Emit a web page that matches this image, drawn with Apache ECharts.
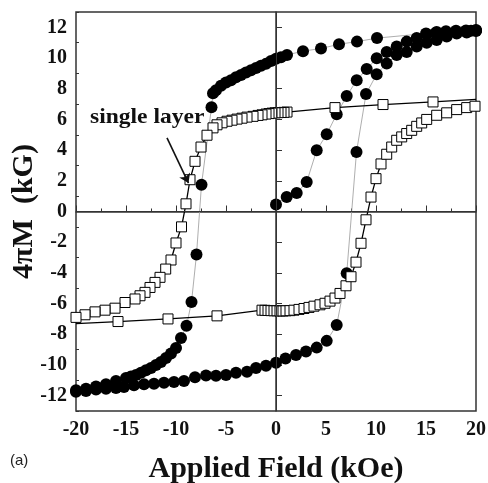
<!DOCTYPE html>
<html>
<head>
<meta charset="utf-8">
<script src="https://cdn.jsdelivr.net/npm/echarts@6/dist/echarts.min.js"></script>
<style>
html,body{margin:0;padding:0;background:#fff;}
#main{width:488px;height:483px;}
</style>
</head>
<body>
<div id="main"></div>
<script>
// multilayer sample (filled circles): initial curve, descending and ascending branches
var circInit = [[0,0.46],[1.07,0.94],[2.07,1.2],[3.07,1.92],[4.07,3.99],[5.07,5.03],[6.07,6.34],[7.07,7.52],
  [8.07,8.56],[9.07,9.28],[10.07,9.98],[11.07,10.4],[12.07,10.75],[13.07,11.07],[14.07,11.3],[15.07,11.55],
  [16.07,11.7],[17,11.75],[18,11.78],[19,11.8],[20,11.82]];
var circDown = [[20,11.8],[19.5,11.78],[19,11.75],[18,11.72],[17,11.68],[16,11.65],[15,11.6],[10.1,11.3],
  [8.1,11.07],[6.3,10.9],[4.5,10.62],[2.7,10.45],[1.1,10.2],[0.5,10.05],[0,9.95],[-0.5,9.8],[-1,9.62],
  [-1.5,9.5],[-2,9.35],[-2.5,9.2],[-3,9.05],[-3.5,8.9],[-4,8.75],[-4.5,8.55],[-5,8.4],[-5.5,8.2],[-6,7.9],
  [-6.3,7.7],[-6.45,6.8],[-7.45,1.75],[-7.95,-2.8],[-8.45,-5.9],[-8.95,-7.45],[-9.5,-8.25],[-10,-8.9],
  [-10.5,-9.25],[-11,-9.55],[-11.5,-9.8],[-12,-10.0],[-12.5,-10.2],[-13,-10.35],[-13.5,-10.5],[-14,-10.65],
  [-14.5,-10.75],[-15,-10.85],[-16,-11.05],[-17,-11.25],[-18,-11.4],[-19,-11.55],[-20,-11.65]];
var circUp = [[-20,-11.75],[-19,-11.7],[-18,-11.6],[-17,-11.55],[-16,-11.5],[-15.2,-11.44],[-14.2,-11.33],
  [-13.2,-11.26],[-12.2,-11.22],[-11.2,-11.16],[-10.2,-11.11],[-9.2,-11.05],[-8.1,-10.8],[-7,-10.68],
  [-6,-10.7],[-5,-10.65],[-4,-10.5],[-2.9,-10.45],[-2,-10.2],[-1,-10.05],[0,-9.85],[0.95,-9.58],[2.0,-9.35],
  [3.0,-9.13],[4.07,-8.87],[5.07,-8.43],[6.07,-7.4],[7.07,-4.03],[8.05,3.88],[9.0,7.65],[10.07,8.95],
  [11.07,9.65],[12.07,10.2],[13.07,10.4],[14.07,10.75],[15.07,11.0],[16.07,11.18],[17.07,11.4],
  [18.07,11.6],[19.07,11.67],[20,11.76]];

// single layer (open squares)
var sqDown = [[20,7.3],[15.7,7.14],[10.7,6.97],[5.9,6.77],[1.1,6.48],[0.8,6.46],[0.5,6.45],[0.2,6.44],
  [-0.1,6.43],[-0.4,6.41],[-0.7,6.38],[-1.0,6.35],[-1.4,6.3],[-1.8,6.26],[-2.3,6.2],[-2.9,6.15],[-3.4,6.08],
  [-3.9,6.02],[-4.4,5.95],[-4.9,5.88],[-5.4,5.78],[-5.9,5.65],[-6.3,5.45],[-6.9,4.97],[-7.5,4.2],[-8.1,3.27],
  [-8.6,2.07],[-9.0,0.5],[-9.45,-1.0],[-10,-2.05],[-10.5,-3.16],[-11.03,-3.75],[-11.6,-4.29],[-12.1,-4.62],
  [-12.6,-4.95],[-13.1,-5.27],[-13.6,-5.49],[-14.1,-5.7],[-15.1,-5.93],[-16.1,-6.3],[-17.1,-6.43],
  [-18.1,-6.54],[-19.1,-6.73],[-20,-6.9]];
var sqUp = [[-20,-7.3],[-15.8,-7.17],[-10.8,-7.0],[-5.9,-6.8],[-1.4,-6.43],[-1.1,-6.44],[-0.8,-6.45],
  [-0.5,-6.46],[-0.2,-6.47],[0.1,-6.47],[0.4,-6.48],[0.7,-6.48],[1.0,-6.47],[1.4,-6.46],[1.8,-6.43],
  [2.3,-6.38],[2.8,-6.32],[3.3,-6.25],[3.8,-6.17],[4.4,-6.08],[4.9,-5.98],[5.4,-5.84],[5.9,-5.64],
  [6.4,-5.34],[7.0,-4.84],[7.5,-4.25],[8.0,-3.3],[8.5,-2.07],[9.0,-0.54],[9.5,0.94],[10.0,2.14],[10.5,3.1],
  [11.07,3.73],[11.57,4.2],[12.07,4.64],[12.57,4.86],[13.07,5.08],[13.57,5.29],[14.07,5.55],[14.57,5.77],
  [15.07,6.0],[16.07,6.27],[17.07,6.43],[18.07,6.64],[19.07,6.77],[19.9,6.86]];

var yMajor = [-12,-10,-8,-6,-4,-2,0,2,4,6,8,10,12];
var yMinor = [-13,-11,-9,-7,-5,-3,-1,1,3,5,7,9,11,13];
var arrowFrom = [-10.9,4.8];
var arrowTo = [-8.75,1.85];

var serif = '"Liberation Serif","Times New Roman",serif';
var chart = echarts.init(document.getElementById('main'));

// hide the marker on the loop end points that sit on the frame
function noEndMarker(arr){
  return arr.map(function(p, i){
    if (i === 0) return {value: p, symbol: 'none'};
    return p;
  });
}

var circStyle = {
  type: 'line', symbol: 'circle', symbolSize: 12,
  itemStyle: {color: '#000'},
  lineStyle: {color: '#999', width: 0.8},
  z: 2, animation: false, silent: true
};
var sqStyle = {
  type: 'line', symbol: 'rect', symbolSize: 10,
  itemStyle: {color: '#fff', borderColor: '#000', borderWidth: 1},
  lineStyle: {color: '#000', width: 1.3},
  z: 3, animation: false, silent: true
};

var option = {
  backgroundColor: '#fff',
  grid: {left: 76, right: 12, top: 12, bottom: 72, show: true, borderColor: '#333', borderWidth: 1.5,
    outerBoundsMode: 'none', containLabel: false},
  xAxis: {
    type: 'value', min: -20, max: 20, interval: 5,
    name: 'Applied Field (kOe)', nameLocation: 'middle', nameGap: 43, nameMoveOverlap: false,
    nameTextStyle: {fontFamily: serif, fontWeight: 'bold', fontSize: 30, color: '#111'},
    axisLine: {lineStyle: {color: '#333', width: 1.5}},
    axisTick: {inside: true, length: 6, lineStyle: {color: '#333'}},
    minorTick: {show: true, splitNumber: 2, length: 3, lineStyle: {color: '#333'}},
    splitLine: {show: false},
    axisLabel: {fontFamily: serif, fontWeight: 'bold', fontSize: 20, color: '#111', margin: 9}
  },
  yAxis: [{
    type: 'value', min: -13, max: 13,
    name: '4πM  (kG)', nameLocation: 'middle', nameGap: 37, nameRotate: 90, nameMoveOverlap: false,
    nameTextStyle: {fontFamily: serif, fontWeight: 'bold', fontSize: 30, color: '#111'},
    axisLine: {lineStyle: {color: '#333', width: 1.5}},
    axisTick: {inside: true, length: 6, customValues: yMajor, lineStyle: {color: '#333'}},
    splitLine: {show: false},
    axisLabel: {customValues: yMajor, fontFamily: serif, fontWeight: 'bold', fontSize: 20, color: '#111', margin: 9}
  }, {
    type: 'value', min: -13, max: 13, position: 'left',
    axisLine: {show: false},
    axisTick: {inside: true, length: 3, customValues: yMinor, lineStyle: {color: '#333'}},
    axisLabel: {show: false}, splitLine: {show: false}
  }],
  graphic: [{
    type: 'text', left: 90, top: 107, scaleX: 1.12,
    style: {text: 'single layer', font: 'bold 21px ' + serif, fill: '#111'}
  }, {
    type: 'text', left: 10, top: 453,
    style: {text: '(a)', font: '15px "Liberation Sans",Arial,sans-serif', fill: '#222'}
  }],
  series: [
    Object.assign({}, circStyle, {
      name: 'initial', data: circInit,
      markLine: {
        silent: true, symbol: 'none', animation: false, label: {show: false},
        lineStyle: {color: '#333', width: 1, type: 'solid'},
        data: [{xAxis: 0}, {yAxis: 0}]
      }
    }),
    Object.assign({}, circStyle, {name: 'down', data: circDown}),
    Object.assign({}, circStyle, {name: 'up', data: circUp}),
    Object.assign({}, sqStyle, {name: 'single down', data: noEndMarker(sqDown)}),
    Object.assign({}, sqStyle, {
      name: 'single up', data: noEndMarker(sqUp),
      markLine: {
        silent: true, animation: false, symbol: ['none', 'arrow'], symbolSize: 9,
        label: {show: false},
        lineStyle: {color: '#111', width: 1.6, type: 'solid'},
        data: [[{coord: arrowFrom}, {coord: arrowTo}]]
      }
    })
  ]
};
chart.setOption(option);
</script>
</body>
</html>
